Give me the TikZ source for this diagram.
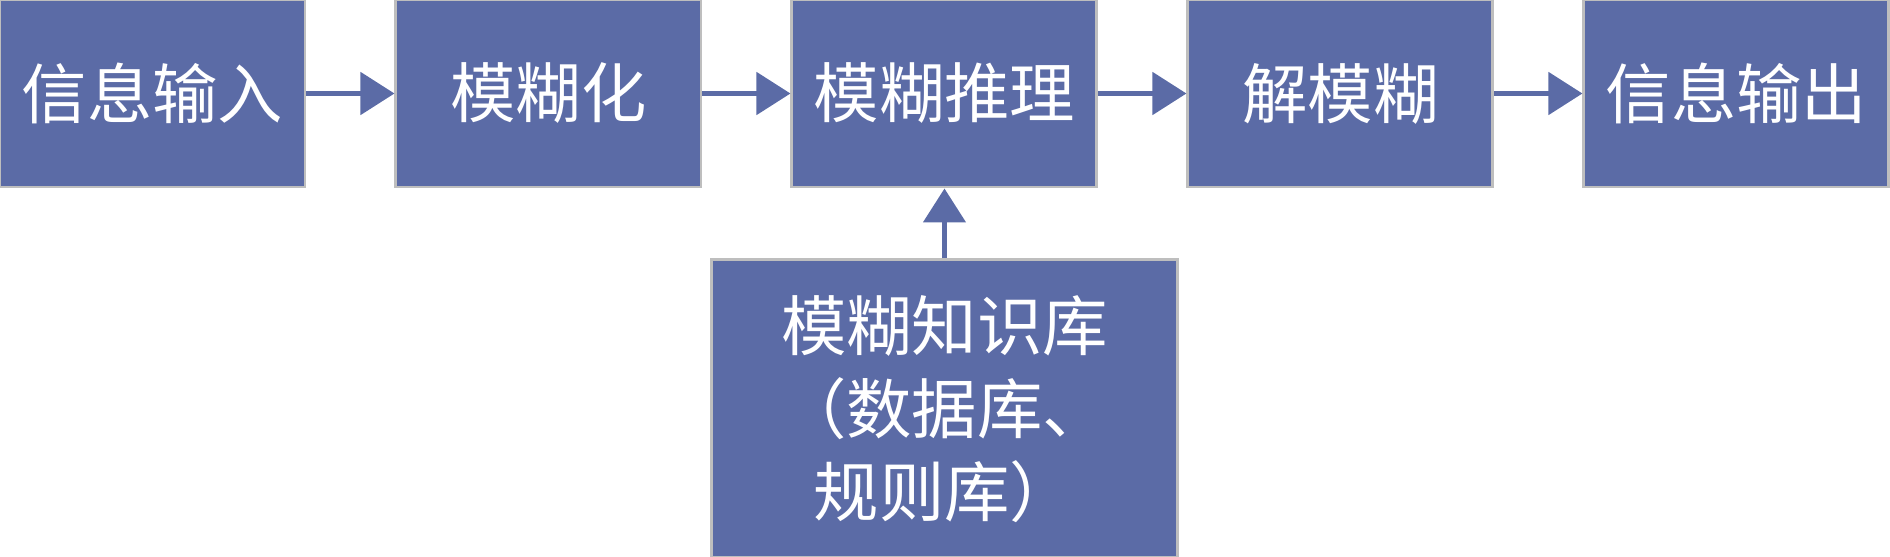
\documentclass[tikz,border=0pt]{standalone}
\usepackage{fontspec}
\newfontfamily\cjk{Noto Sans CJK SC}
\usetikzlibrary{arrows.meta,positioning}
\definecolor{blockblue}{RGB}{91,107,166}
\definecolor{blockedge}{RGB}{190,190,190}
\tikzset{
    block color/.style={fill=blockblue},
    block style/.style={block color,draw=blockedge,line width=0.85pt,text=white,
        minimum width=3.05cm,minimum height=1.87cm,inner sep=0pt,align=center},
    arr/.style={-{Triangle[length=0.34cm,width=0.42cm]},line width=1.4pt,blockblue},
}
\tikzstyle{every node}=[font=\cjk\fontsize{18.6}{23.6}\selectfont]

\begin{document}
\begin{tikzpicture}
        \useasboundingbox (0,0) rectangle (18.9,-5.57);
        \node[block style] (in) at (1.525,-0.935) {信息输入};
        \node[block style, right=0.88cm of in] (fuzzify) {模糊化};
        \node[block style, right=0.88cm of fuzzify] (infer) {模糊推理};
        \node[block style, right=0.88cm of infer] (defuzz) {解模糊};
        \node[block style, right=0.88cm of defuzz] (out) {信息输出};
        \node[block style, below=0.7cm of infer, minimum width=4.66cm, minimum height=2.98cm] (kb) {模糊知识库\\（数据库、\\规则库）};
        \draw[arr] (in) -- (fuzzify);
        \draw[arr] (fuzzify) -- (infer);
        \draw[arr] (infer) -- (defuzz);
        \draw[arr] (defuzz) -- (out);
        \draw[arr] (kb) -- (infer);
    \end{tikzpicture}
\end{document}
